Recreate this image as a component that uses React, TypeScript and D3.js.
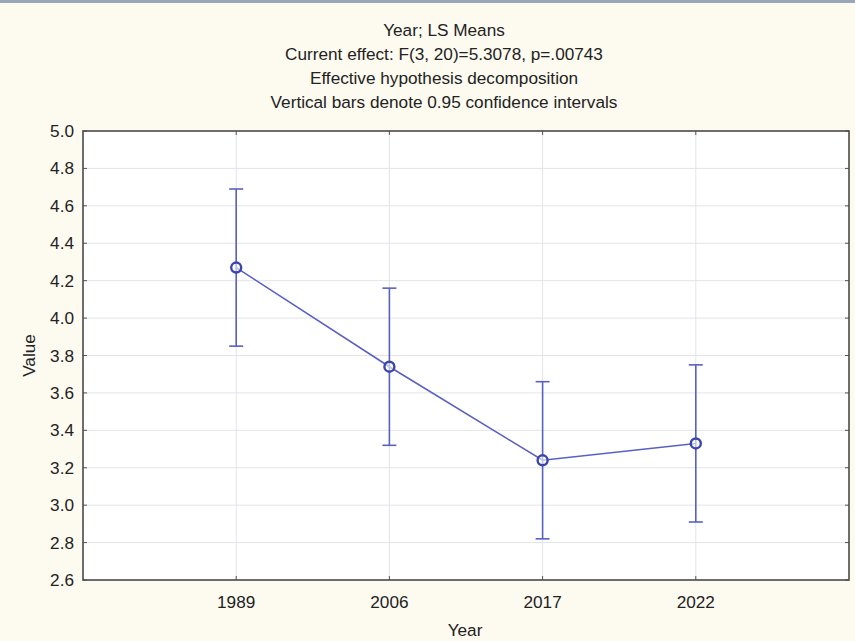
import React, { useEffect, useRef } from "react";
import * as d3 from "d3";

const years = ["1989", "2006", "2017", "2022"];
const means = [4.27, 3.74, 3.24, 3.33];
const upper = [4.69, 4.16, 3.66, 3.75];
const lower = [3.85, 3.32, 2.82, 2.91];
const yTicks = [2.6, 2.8, 3.0, 3.2, 3.4, 3.6, 3.8, 4.0, 4.2, 4.4, 4.6, 4.8, 5.0];
const titleLines = [
  "Year; LS Means",
  "Current effect: F(3, 20)=5.3078, p=.00743",
  "Effective hypothesis decomposition",
  "Vertical bars denote 0.95 confidence intervals",
];

const App: React.FC = () => {
  const svgRef = useRef<SVGSVGElement>(null);
  const width = 855;
  const height = 641;
  const margin = { top: 131, right: 6, bottom: 61, left: 83 };
  const w = width - margin.left - margin.right;
  const h = height - margin.top - margin.bottom;

  useEffect(() => {
    const font = "'Liberation Sans', Arial, sans-serif";
    const fs = 17.2;
    const svg = d3.select(svgRef.current);
    svg.selectAll("*").remove();

    svg.append("rect").attr("width", width).attr("height", height).attr("fill", "#fdfaf0");
    svg.append("rect").attr("width", width).attr("height", 3).attr("fill", "#9aa5b8");

    titleLines.forEach((t, i) => {
      svg.append("text")
        .attr("x", 444)
        .attr("y", 36 + i * 24)
        .attr("text-anchor", "middle")
        .attr("font-family", font)
        .attr("font-size", fs)
        .attr("fill", "#222")
        .text(t);
    });

    const x = d3.scaleLinear().domain([0, years.length + 1]).range([0, w]);
    const y = d3.scaleLinear().domain([2.6, 5.0]).range([h, 0]);

    const g = svg.append("g").attr("transform", `translate(${margin.left},${margin.top})`);
    g.append("rect").attr("width", w).attr("height", h).attr("fill", "#ffffff");

    // grid
    g.selectAll(".hgrid")
      .data(yTicks.slice(1, -1))
      .join("line")
      .attr("x1", 0).attr("x2", w)
      .attr("y1", (d) => y(d)).attr("y2", (d) => y(d))
      .attr("stroke", "#e2e4e8").attr("stroke-width", 1);
    g.selectAll(".vgrid")
      .data(years)
      .join("line")
      .attr("x1", (_, i) => x(i + 1)).attr("x2", (_, i) => x(i + 1))
      .attr("y1", 0).attr("y2", h)
      .attr("stroke", "#e2e4e8").attr("stroke-width", 1);

    // small inward ticks
    yTicks.forEach((t) => {
      g.append("line").attr("x1", 0).attr("x2", 4).attr("y1", y(t)).attr("y2", y(t)).attr("stroke", "#555");
      g.append("line").attr("x1", w - 4).attr("x2", w).attr("y1", y(t)).attr("y2", y(t)).attr("stroke", "#555");
    });
    years.forEach((_, i) => {
      g.append("line").attr("x1", x(i + 1)).attr("x2", x(i + 1)).attr("y1", 0).attr("y2", 4).attr("stroke", "#555");
      g.append("line").attr("x1", x(i + 1)).attr("x2", x(i + 1)).attr("y1", h - 4).attr("y2", h).attr("stroke", "#555");
    });

    // frame
    g.append("rect").attr("width", w).attr("height", h)
      .attr("fill", "none").attr("stroke", "#4a4a4a").attr("stroke-width", 1.6);

    // y labels
    yTicks.forEach((t) => {
      g.append("text")
        .attr("x", -9).attr("y", y(t)).attr("dy", "0.35em")
        .attr("text-anchor", "end")
        .attr("font-family", font).attr("font-size", fs).attr("fill", "#222")
        .text(t.toFixed(1));
    });
    years.forEach((yr, i) => {
      g.append("text")
        .attr("x", x(i + 1)).attr("y", h + 28)
        .attr("text-anchor", "middle")
        .attr("font-family", font).attr("font-size", fs).attr("fill", "#222")
        .text(yr);
    });
    svg.append("text")
      .attr("x", margin.left + w / 2 - 1).attr("y", 636)
      .attr("text-anchor", "middle")
      .attr("font-family", font).attr("font-size", fs).attr("fill", "#222")
      .text("Year");
    svg.append("text")
      .attr("transform", `translate(35,${margin.top + h / 2}) rotate(-90)`)
      .attr("text-anchor", "middle")
      .attr("font-family", font).attr("font-size", fs).attr("fill", "#222")
      .text("Value");

    const col = "#5a60c2";
    // error bars
    years.forEach((_, i) => {
      const cx = x(i + 1);
      g.append("line").attr("x1", cx).attr("x2", cx).attr("y1", y(upper[i])).attr("y2", y(lower[i]))
        .attr("stroke", col).attr("stroke-width", 1.6);
      [upper[i], lower[i]].forEach((v) => {
        g.append("line").attr("x1", cx - 7).attr("x2", cx + 7).attr("y1", y(v)).attr("y2", y(v))
          .attr("stroke", col).attr("stroke-width", 1.6);
      });
    });

    const line = d3.line<number>().x((_, i) => x(i + 1)).y((d) => y(d));
    g.append("path").datum(means).attr("d", line)
      .attr("fill", "none").attr("stroke", col).attr("stroke-width", 1.6);

    g.selectAll(".pt")
      .data(means)
      .join("circle")
      .attr("cx", (_, i) => x(i + 1)).attr("cy", (d) => y(d))
      .attr("r", 5)
      .attr("fill", "#ffffff").attr("fill-opacity", 0.6)
      .attr("stroke", "#3a45ad").attr("stroke-width", 2.4);
  }, []);

  return (
    <svg
      ref={svgRef}
      width={width}
      height={height}
      style={{ position: "absolute", left: 0, top: 0, display: "block" }}
    />
  );
};

export default App;
